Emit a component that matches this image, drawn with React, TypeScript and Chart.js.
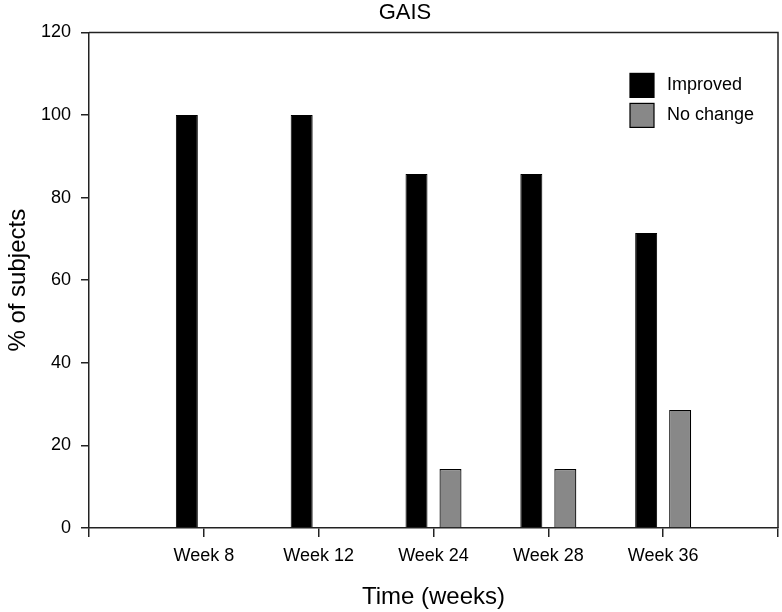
import { useEffect, useRef } from "react";
import { Chart, registerables } from "chart.js";

// Register all Chart.js components
Chart.register(...registerables);

const weeks = ["Week 8", "Week 12", "Week 24", "Week 28", "Week 36"];
const improved = [100, 100, 85.7, 85.7, 71.4];
const noChange = [0, 0, 14.3, 14.3, 28.6];
const yTicks = [0, 20, 40, 60, 80, 100, 120];

const FONT = "'Liberation Sans', Arial, Helvetica, sans-serif";
const AXIS = "#222";

// top and right edges of the plot box
const framePlugin = {
  id: "frame",
  afterDraw(chart: any) {
    const { ctx, chartArea: a } = chart;
    ctx.save();
    ctx.strokeStyle = AXIS;
    ctx.lineWidth = 1.5;
    ctx.beginPath();
    ctx.moveTo(a.left, a.top);
    ctx.lineTo(a.right, a.top);
    ctx.lineTo(a.right, a.bottom);
    ctx.stroke();
    ctx.restore();
  }
};

// legend drawn inside the plot, top right
const insetLegend = {
  id: "insetLegend",
  afterDraw(chart: any) {
    const { ctx, chartArea } = chart;
    const x = chartArea.right - 148;
    const top = chartArea.top + 41;
    ctx.save();
    chart.data.datasets.forEach((ds: any, i: number) => {
      const y = top + i * 30;
      ctx.fillStyle = ds.backgroundColor;
      ctx.fillRect(x, y, 24, 24);
      ctx.strokeStyle = "#000";
      ctx.lineWidth = 1.2;
      ctx.strokeRect(x, y, 24, 24);
      ctx.fillStyle = "#000";
      ctx.font = `18px ${FONT}`;
      ctx.textBaseline = "middle";
      ctx.fillText(ds.label, x + 37, y + 12);
    });
    ctx.restore();
  }
};

// nudge the title a bit to the right, like the original figure
const titleShift = {
  id: "titleShift",
  afterLayout(chart: any) {
    const t = chart.titleBlock;
    if (t) {
      t.left += 16;
      t.right += 16;
    }
  }
};

export default function App() {
  const chartRef = useRef<HTMLCanvasElement | null>(null);
  const chartInstance = useRef<Chart | null>(null);

  useEffect(() => {
    if (!chartRef.current) return;
    if (chartInstance.current) chartInstance.current.destroy();

    Chart.defaults.font.family = FONT;
    Chart.defaults.color = "#000";

    // empty slots at both ends so the axis has room before and after the weeks
    const labels = ["", ...weeks, ""];
    const pad = (arr: number[]) => [null, ...arr, null];

    chartInstance.current = new Chart(chartRef.current, {
      type: "bar",
      data: {
        labels,
        datasets: [
          {
            label: "Improved",
            data: pad(improved),
            backgroundColor: "#000000",
            borderColor: "#000000",
            borderWidth: 1
          },
          {
            label: "No change",
            data: pad(noChange),
            backgroundColor: "#888888",
            borderColor: "#000000",
            borderWidth: 1.2
          }
        ]
      },
      options: {
        responsive: false,
        animation: false,
        layout: { padding: { left: 0, right: 4, top: 0, bottom: 0 } },
        datasets: {
          bar: { categoryPercentage: 0.592, barPercentage: 0.647 }
        },
        plugins: {
          legend: { display: false },
          tooltip: { enabled: false },
          title: {
            display: true,
            text: "GAIS",
            color: "#000",
            font: { size: 22, weight: "normal" },
            padding: { top: 0, bottom: 6 }
          }
        },
        scales: {
          x: {
            offset: false,
            grid: {
              offset: false,
              drawOnChartArea: false,
              drawTicks: true,
              tickLength: 9,
              color: AXIS,
              lineWidth: 1.5
            },
            border: { color: AXIS, width: 1.5 },
            ticks: {
              autoSkip: false,
              maxRotation: 0,
              padding: 8,
              color: "#000",
              font: { size: 18 }
            },
            title: {
              display: true,
              text: "Time (weeks)",
              color: "#000",
              font: { size: 24 },
              padding: { top: 0, bottom: 0 }
            },
            afterFit(scale: any) {
              scale.height = 84;
              scale.paddingLeft = 0;
              scale.paddingRight = 0;
            }
          },
          y: {
            min: 0,
            max: 120,
            afterBuildTicks(scale: any) {
              scale.ticks = yTicks.map((v) => ({ value: v }));
            },
            grid: {
              drawOnChartArea: false,
              drawTicks: true,
              tickLength: 8,
              color: AXIS,
              lineWidth: 1.5
            },
            border: { color: AXIS, width: 1.5 },
            ticks: {
              padding: 10,
              color: "#000",
              font: { size: 18 }
            },
            title: {
              display: true,
              text: "% of subjects",
              color: "#000",
              font: { size: 24 },
              padding: { top: 4, bottom: 0 }
            },
            afterFit(scale: any) {
              scale.width = 89;
            }
          }
        }
      },
      plugins: [framePlugin, insetLegend, titleShift]
    });

    // Cleanup
    return () => {
      if (chartInstance.current) {
        chartInstance.current.destroy();
        chartInstance.current = null;
      }
    };
  }, []);

  return (
    <div style={{ position: "absolute", left: 0, top: 0, width: 782, height: 612, background: "#fff" }}>
      <canvas ref={chartRef} width={782} height={612} style={{ display: "block" }}></canvas>
    </div>
  );
}
